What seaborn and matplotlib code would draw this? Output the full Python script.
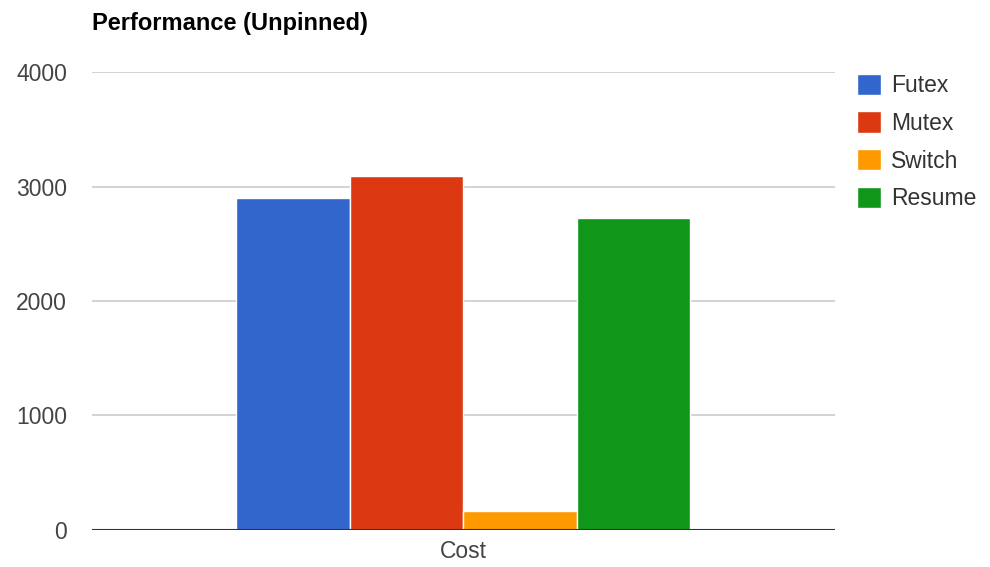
import pandas as pd
import seaborn as sns
import matplotlib.pyplot as plt

# values
categories = ["Cost"]
series = ["Futex", "Mutex", "Switch", "Resume"]
values = [2900, 3090, 170, 2725]
colors = ["#3366cc", "#dc3912", "#ff9900", "#109618"]
yticks = [0, 1000, 2000, 3000, 4000]

df = pd.DataFrame({
    "category": categories * len(series),
    "series": series,
    "value": values,
})

sns.set_style("white")
plt.rcParams["font.family"] = ["Liberation Sans", "DejaVu Sans"]

fig = plt.figure(figsize=(9.9, 5.67), dpi=100)
ax = fig.add_axes([0.093, 0.0653, 0.75, 0.8077])

sns.barplot(data=df, x="category", y="value", hue="series", hue_order=series,
            palette=colors, saturation=1, width=0.611, edgecolor="white",
            linewidth=1, ax=ax, zorder=3)

ax.set_xlim(-0.5, 0.5)
ax.set_ylim(0, 4000)
ax.set_yticks(yticks)
ax.set_yticklabels([str(t) for t in yticks])
ax.yaxis.grid(True, color="#cccccc", linewidth=1.2, zorder=0)
ax.axhline(0, color="#333333", linewidth=1.5, zorder=4)
for s in ax.spines.values():
    s.set_visible(False)
ax.tick_params(axis="both", length=0, labelsize=16.5, colors="#444444")
ax.tick_params(axis="x", pad=7)
ax.tick_params(axis="y", pad=18)
ax.set_xlabel("")
ax.set_ylabel("")

fig.text(0.093, 0.958, "Performance (Unpinned)", fontsize=17, fontweight="bold",
         ha="left", va="center", color="#000000")

leg = ax.legend(loc="upper left", bbox_to_anchor=(1.030, 0.996), frameon=False,
                fontsize=16.5, handlelength=1.05, handleheight=1.05,
                handletextpad=0.45, labelspacing=0.62, borderaxespad=0,
                borderpad=0)
for t in leg.get_texts():
    t.set_color("#333333")

fig.savefig("out.png", dpi=100)
